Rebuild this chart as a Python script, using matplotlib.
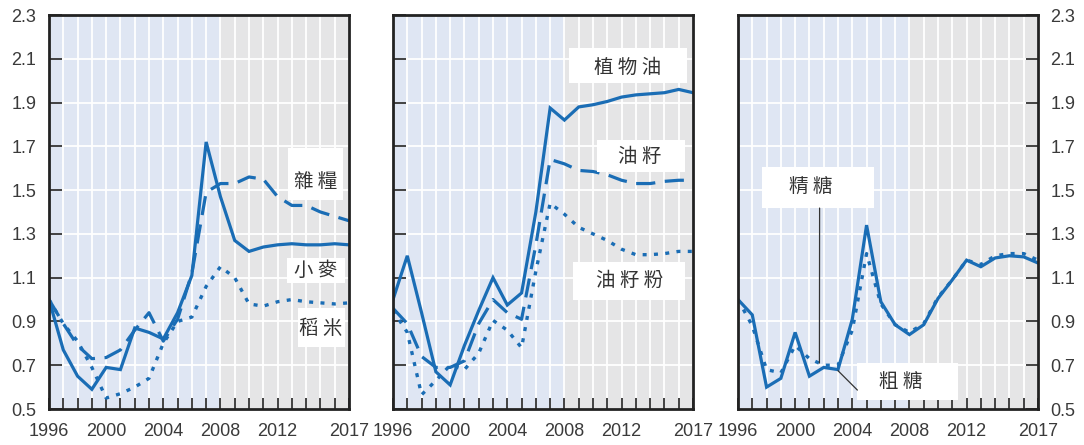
import numpy as np
import matplotlib.pyplot as plt
from matplotlib.patches import Rectangle

# 年份
years = np.arange(1996, 2018)

# 穀物
wheat = [1.00, 0.77, 0.65, 0.59, 0.69, 0.68, 0.87, 0.85, 0.82, 0.94, 1.11, 1.72,
         1.47, 1.27, 1.22, 1.24, 1.25, 1.255, 1.25, 1.25, 1.255, 1.25]
coarse_grains = [1.00, 0.89, 0.79, 0.73, 0.735, 0.77, 0.86, 0.94, 0.81, 0.91, 1.12, 1.49,
                 1.53, 1.53, 1.56, 1.55, 1.47, 1.43, 1.43, 1.40, 1.38, 1.36]
rice = [1.00, 0.89, 0.81, 0.69, 0.55, 0.57, 0.60, 0.64, 0.80, 0.90, 0.92, 1.06,
        1.15, 1.10, 0.98, 0.97, 0.99, 1.00, 0.99, 0.985, 0.98, 0.985]

# 油籽類
veg_oil = [1.00, 1.20, 0.94, 0.67, 0.61, 0.79, 0.95, 1.10, 0.975, 1.03, 1.40, 1.875,
           1.82, 1.88, 1.89, 1.905, 1.925, 1.935, 1.94, 1.945, 1.96, 1.945]
oilseeds = [0.96, 0.89, 0.74, 0.69, 0.69, 0.72, 0.89, 1.00, 0.94, 0.91, 1.25, 1.64,
            1.62, 1.59, 1.585, 1.57, 1.545, 1.53, 1.53, 1.54, 1.545, 1.545]
oilseed_meal = [0.95, 0.85, 0.565, 0.63, 0.70, 0.68, 0.755, 0.905, 0.86, 0.78, 1.13, 1.44,
                1.39, 1.33, 1.30, 1.27, 1.23, 1.205, 1.205, 1.21, 1.22, 1.22]

# 糖
raw_sugar = [1.00, 0.93, 0.60, 0.64, 0.85, 0.65, 0.69, 0.68, 0.91, 1.34, 0.99, 0.885,
             0.84, 0.885, 1.005, 1.09, 1.18, 1.15, 1.19, 1.20, 1.195, 1.167]
white_sugar = [1.00, 0.88, 0.68, 0.665, 0.79, 0.73, 0.70, 0.70, 0.86, 1.21, 0.98, 0.885,
               0.85, 0.89, 1.01, 1.09, 1.18, 1.16, 1.20, 1.21, 1.21, 1.18]

xtick_labels = [1996, 2000, 2004, 2008, 2012, 2017]
ytick_vals = [0.5, 0.7, 0.9, 1.1, 1.3, 1.5, 1.7, 1.9, 2.1, 2.3]

blue = '#1a6db5'
txt_col = '#3a3a3a'
plt.rcParams['font.family'] = ['Liberation Sans', 'DejaVu Sans']

fig = plt.figure(figsize=(10.84, 4.45), dpi=100)
W, H = 1084, 445
lefts = [49, 393, 738]
axes = []
for lx in lefts:
    ax = fig.add_axes([lx / W, (H - 409) / H, 300 / W, 394 / H])
    axes.append(ax)


def style(ax, side):
    ax.set_xlim(1996, 2017)
    ax.set_ylim(0.5, 2.3)
    ax.axvspan(1996, 2008, color='#dfe6f3', zorder=0, lw=0)
    ax.axvspan(2008, 2017, color='#e5e5e6', zorder=0, lw=0)
    for yr in years:
        ax.axvline(yr, color='white', lw=1.3, zorder=1)
    for v in ytick_vals:
        ax.axhline(v, color='white', lw=1.3, zorder=1)
    ax.set_xticks(xtick_labels)
    ax.set_xticks(years, minor=True)
    ax.set_xticklabels([str(v) for v in xtick_labels])
    ax.set_yticks(ytick_vals)
    ax.set_yticklabels([f'{v:.1f}' for v in ytick_vals])
    ax.tick_params(axis='x', which='both', direction='in', length=8, width=1.2,
                   color='#222222', pad=10, labelsize=13, labelcolor=txt_col)
    ax.tick_params(axis='y', direction='in', length=9, width=1.2, color='#222222',
                   pad=9, labelsize=13, labelcolor=txt_col)
    if side == 'left':
        ax.tick_params(axis='y', left=True, right=False, labelleft=True, labelright=False)
    elif side == 'right':
        ax.tick_params(axis='y', left=False, right=True, labelleft=False, labelright=True)
    else:
        ax.tick_params(axis='y', left=True, right=False, labelleft=False, labelright=False)
    for s in ax.spines.values():
        s.set_color('#222222')
        s.set_linewidth(2)
        s.set_zorder(6)


def label_box(ax, x0, y0, x1, y1, tx, ty, text):
    ax.add_patch(Rectangle((x0, y0), x1 - x0, y1 - y0, transform=ax.transAxes,
                           facecolor='white', edgecolor='none', zorder=4))
    ax.text(tx, ty, text, transform=ax.transAxes, ha='center', va='center',
            fontsize=14, color='#333333', zorder=5,
            family=['Noto Sans CJK TC', 'DejaVu Sans'])


solid = dict(color=blue, lw=2.3, zorder=3, solid_joinstyle='miter')
dashed = dict(color=blue, lw=2.3, zorder=3, dashes=(6, 3))
dotted = dict(color=blue, lw=2.4, zorder=3, dashes=(1.2, 2.2))

# 穀物
ax = axes[0]
style(ax, 'left')
ax.plot(years, wheat, **solid)
ax.plot(years, coarse_grains, **dashed)
ax.plot(years, rice, **dotted)
label_box(ax, 0.797, 0.531, 0.98, 0.662, 0.89, 0.578, '雜 糧')
label_box(ax, 0.793, 0.320, 0.987, 0.383, 0.89, 0.352, '小 麥')
label_box(ax, 0.83, 0.157, 0.987, 0.256, 0.905, 0.205, '稻 米')

# 油籽類
ax = axes[1]
style(ax, 'none')
ax.plot(years, veg_oil, **solid)
ax.plot(years, oilseeds, **dashed)
ax.plot(years, oilseed_meal, **dotted)
label_box(ax, 0.587, 0.827, 0.98, 0.916, 0.783, 0.868, '植 物 油')
label_box(ax, 0.68, 0.602, 0.973, 0.683, 0.823, 0.64, '油 籽')
label_box(ax, 0.60, 0.277, 0.973, 0.373, 0.79, 0.325, '油 籽 粉')

# 糖
ax = axes[2]
style(ax, 'right')
ax.plot(years, white_sugar, **dotted)
ax.plot(years, raw_sugar, **solid)
label_box(ax, 0.08, 0.51, 0.452, 0.614, 0.241, 0.563, '精 糖')
label_box(ax, 0.398, 0.023, 0.732, 0.117, 0.542, 0.071, '粗 糖')
ax.annotate('', xy=(2001.7, 0.71), xycoords='data', xytext=(0.272, 0.51),
            textcoords='axes fraction',
            arrowprops=dict(arrowstyle='-', lw=0.9, color='#333333', shrinkA=0, shrinkB=0),
            zorder=5)
ax.annotate('', xy=(2003, 0.675), xycoords='data', xytext=(0.398, 0.048),
            textcoords='axes fraction',
            arrowprops=dict(arrowstyle='-', lw=0.9, color='#333333', shrinkA=0, shrinkB=0),
            zorder=5)

fig.savefig('out.png', dpi=100)
